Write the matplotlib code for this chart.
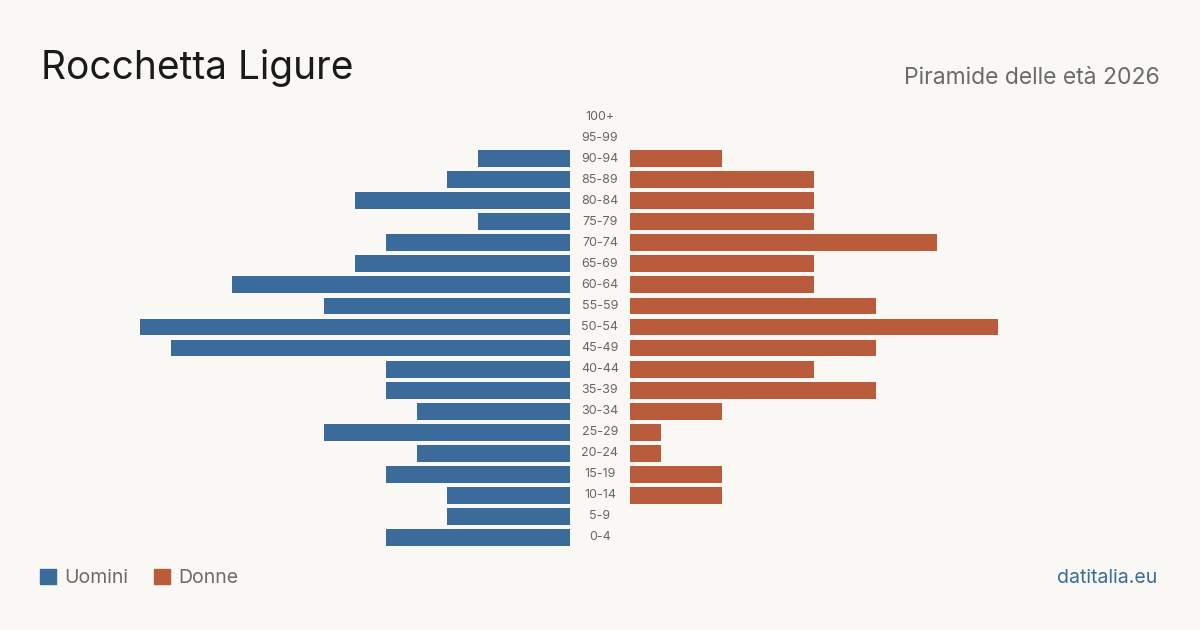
import matplotlib.pyplot as plt
import matplotlib.transforms as mtransforms
from matplotlib.patches import Patch

plt.rcParams['font.family'] = ['Inter', 'DejaVu Sans']

eta = ['0-4', '5-9', '10-14', '15-19', '20-24', '25-29', '30-34', '35-39', '40-44', '45-49',
       '50-54', '55-59', '60-64', '65-69', '70-74', '75-79', '80-84', '85-89', '90-94', '95-99', '100+']
uomini = [6, 4, 4, 6, 5, 8, 5, 6, 6, 13, 14, 8, 11, 7, 6, 3, 7, 4, 3, 0, 0]
donne = [0, 0, 3, 3, 1, 1, 3, 8, 6, 8, 12, 8, 6, 6, 10, 6, 6, 6, 3, 0, 0]

blu = '#3b6b9b'
rosso = '#b95c3c'
sfondo = '#f9f8f4'

fig = plt.figure(figsize=(12, 6.3), dpi=100, facecolor=sfondo)

# pixel layout: left bars end at x=570, right bars start at x=630, ~30.7 px per person
W, H = 1200, 630
unit = 30.7
top, bottom = 106, 548
ax_l = fig.add_axes([40 / W, 1 - bottom / H, 530 / W, (bottom - top) / H])
ax_r = fig.add_axes([630 / W, 1 - bottom / H, 530 / W, (bottom - top) / H])

y = list(range(len(eta)))
ax_l.barh(y, uomini, height=0.8, color=blu)
ax_r.barh(y, donne, height=0.8, color=rosso)
ax_l.set_xlim(530 / unit, 0)
ax_r.set_xlim(0, 530 / unit)

for ax in (ax_l, ax_r):
    ax.set_ylim(-0.5, len(eta) - 0.5)
    ax.set_facecolor('none')
    ax.axis('off')

trans = mtransforms.blended_transform_factory(fig.transFigure, ax_r.transData)
for i, lab in enumerate(eta):
    fig.text(0.5, i, lab, transform=trans, ha='center', va='center',
             fontsize=9, color='#666666')

fig.text(41 / W, 1 - 68 / H, 'Rocchetta Ligure', fontsize=28, color='#1a1a1a',
         ha='left', va='center')
fig.text(1160 / W, 1 - 78 / H, 'Piramide delle età 2026', fontsize=16.5, color='#6b6b6b',
         ha='right', va='center')
fig.text(1157 / W, 1 - 578 / H, 'datitalia.eu', fontsize=14, color='#3b6b9b',
         ha='right', va='center')

handles = [Patch(color=blu, label='Uomini'), Patch(color=rosso, label='Donne')]
fig.legend(handles=handles, loc='center left', bbox_to_anchor=(40 / W, 1 - 578 / H),
           ncol=2, frameon=False, handlelength=0.82, handleheight=0.82,
           handletextpad=0.41, columnspacing=1.34, fontsize=14, labelcolor='#6b6b6b',
           borderpad=0, borderaxespad=0)

fig.savefig('out.png', dpi=100, facecolor=sfondo)
